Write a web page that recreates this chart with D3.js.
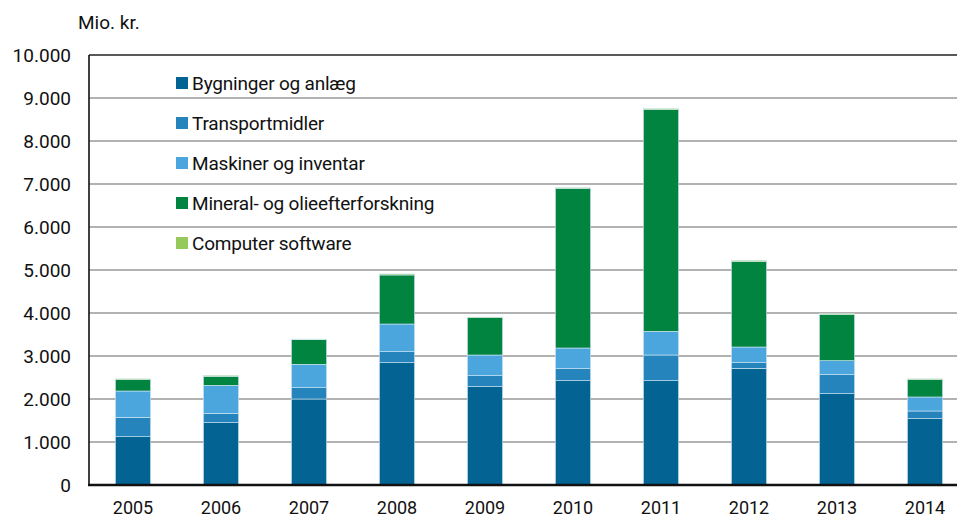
<!DOCTYPE html>
<html>
<head>
<meta charset="utf-8">
<script src="https://cdn.jsdelivr.net/npm/d3@7"></script>
<style>
  body { margin: 0; background: #fff; }
  svg text { font-family: "Liberation Sans Narrow", "Roboto", "Noto Sans", sans-serif; fill: #111; }
</style>
</head>
<body>
<div id="chart"></div>
<script>
const years = ['2005', '2006', '2007', '2008', '2009', '2010', '2011', '2012', '2013', '2014'];
const seriesNames = ['Bygninger og anlæg', 'Transportmidler', 'Maskiner og inventar', 'Mineral- og olieefterforskning', 'Computer software'];
const bygninger = [1123, 1449, 2000, 2844, 2287, 2426, 2426, 2713, 2124, 1543];
const transport = [451, 218, 263, 256, 255, 279, 597, 131, 442, 178];
const maskiner = [612, 651, 544, 644, 481, 481, 551, 365, 325, 326];
const mineral = [263, 210, 572, 1140, 868, 3714, 5154, 1985, 1070, 403];
const software = [20, 20, 15, 25, 15, 15, 25, 30, 25, 20];
const yTicks = [0, 1000, 2000, 3000, 4000, 5000, 6000, 7000, 8000, 9000, 10000];
const colors = ['#036393', '#2584bb', '#4ca6de', '#00843f', '#96c95b'];

const width = 957, height = 520;
const margin = { left: 89, top: 55, right: -12, bottom: 35 };

const svg = d3.select('#chart').append('svg')
    .attr('width', width)
    .attr('height', height);

const x = d3.scaleBand()
    .domain(years)
    .range([margin.left, width - margin.right])
    .paddingInner(0.6)
    .paddingOuter(0.3);

const y = d3.scaleLinear()
    .domain([0, 10000])
    .range([height - margin.bottom, margin.top]);

// gridlines
svg.append('g')
    .selectAll('line')
    .data(yTicks.slice(1))
    .enter().append('line')
    .attr('x1', margin.left)
    .attr('x2', width)
    .attr('y1', d => y(d))
    .attr('y2', d => y(d))
    .attr('stroke', d => d === 10000 ? '#222' : '#999')
    .attr('stroke-width', d => d === 10000 ? 1.5 : 1.6);

// stacked data
const table = years.map((yr, i) => ({
    year: yr,
    s0: bygninger[i], s1: transport[i], s2: maskiner[i], s3: mineral[i], s4: software[i]
}));
const stack = d3.stack().keys(['s0', 's1', 's2', 's3', 's4'])(table);

svg.append('g')
    .selectAll('g')
    .data(stack)
    .enter().append('g')
    .attr('fill', (d, i) => colors[i])
    .selectAll('rect')
    .data(d => d)
    .enter().append('rect')
    .attr('x', d => x(d.data.year))
    .attr('width', x.bandwidth())
    .attr('y', d => y(d[1]))
    .attr('height', d => y(d[0]) - y(d[1]))
    .attr('stroke', '#d4e8f3')
    .attr('stroke-width', 0.6);

// axes lines
svg.append('line')
    .attr('x1', margin.left).attr('x2', margin.left)
    .attr('y1', y(10000)).attr('y2', y(0))
    .attr('stroke', '#111').attr('stroke-width', 1.6);
svg.append('line')
    .attr('x1', margin.left - 1).attr('x2', width)
    .attr('y1', y(0)).attr('y2', y(0))
    .attr('stroke', '#111').attr('stroke-width', 2.4);

// y labels
svg.append('g')
    .selectAll('text')
    .data(yTicks)
    .enter().append('text')
    .attr('x', 71)
    .attr('y', d => y(d))
    .attr('dy', '0.35em')
    .attr('text-anchor', 'end')
    .style('font-size', '19px')
    .text(d => d3.format(',')(d).replace(/,/g, '.'));

// x labels
svg.append('g')
    .selectAll('text')
    .data(years)
    .enter().append('text')
    .attr('x', d => x(d) + x.bandwidth() / 2)
    .attr('y', 514)
    .attr('text-anchor', 'middle')
    .style('font-size', '18px')
    .text(d => d);

svg.append('text')
    .attr('x', 78)
    .attr('y', 29)
    .style('font-size', '19px')
    .text('Mio. kr.');

// legend
const legend = svg.append('g')
    .selectAll('g')
    .data(seriesNames)
    .enter().append('g')
    .attr('transform', (d, i) => 'translate(176,' + (83 + i * 40) + ')');

legend.append('rect')
    .attr('x', 0).attr('y', -6)
    .attr('width', 12).attr('height', 12)
    .attr('fill', (d, i) => colors[i]);

legend.append('text')
    .attr('x', 16)
    .attr('dy', '0.35em')
    .style('font-size', '19px')
    .style('letter-spacing', '-0.2px')
    .text(d => d);
</script>
</body>
</html>
